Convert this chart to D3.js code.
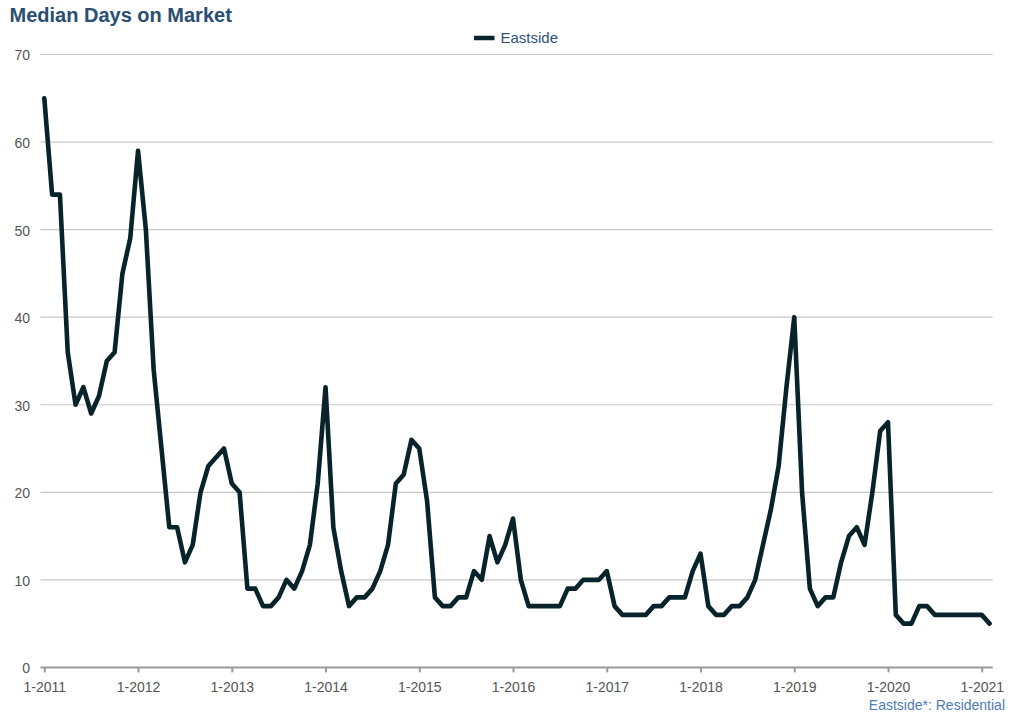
<!DOCTYPE html>
<html>
<head>
<meta charset="utf-8">
<script src="https://cdn.jsdelivr.net/npm/d3@7"></script>
<style>
  body { margin: 0; background: #fff; }
  svg { display: block; font-family: "Liberation Sans", Arial, sans-serif; }
</style>
</head>
<body>
<svg id="chart" width="1024" height="717"></svg>
<script>
// Median days on market, monthly Jan 2011 .. Feb 2021
const startYear = 2011;
const seriesName = "Eastside";
const medianDays = [
  65, 54, 54, 36, 30, 32, 29, 31, 35, 36, 45, 49, // 2011
  59, 50, 34, 25, 16, 16, 12, 14, 20, 23, 24, 25, // 2012
  21, 20, 9, 9, 7, 7, 8, 10, 9, 11, 14, 21,       // 2013
  32, 16, 11, 7, 8, 8, 9, 11, 14, 21, 22, 26,     // 2014
  25, 19, 8, 7, 7, 8, 8, 11, 10, 15, 12, 14,      // 2015
  17, 10, 7, 7, 7, 7, 7, 9, 9, 10, 10, 10,        // 2016
  11, 7, 6, 6, 6, 6, 7, 7, 8, 8, 8, 11,           // 2017
  13, 7, 6, 6, 7, 7, 8, 10, 14, 18, 23, 32,       // 2018
  40, 20, 9, 7, 8, 8, 12, 15, 16, 14, 20, 27,     // 2019
  28, 6, 5, 5, 7, 7, 6, 6, 6, 6, 6, 6,            // 2020
  6, 5                                            // 2021
];
const yTicks = [0, 10, 20, 30, 40, 50, 60, 70];
const yearTicks = d3.range(0, medianDays.length, 12);

const lineColor = "#08232a";
const gridColor = "#c8c8c8";
const axisColor = "#999999";
const labelColor = "#555555";

const svg = d3.select("#chart");
const margin = { top: 54.5, right: 34, bottom: 49.6, left: 44.3 };
const width = +svg.attr("width");
const height = +svg.attr("height");

//Scales
const xScale = d3
  .scaleLinear()
  .domain([0, medianDays.length - 1])
  .range([margin.left, margin.left + 7.812 * (medianDays.length - 1)]);

const yScale = d3
  .scaleLinear()
  .domain([0, 70])
  .range([height - margin.bottom, margin.top]);

const gridX0 = xScale.range()[0] - 3.8;
const gridX1 = xScale.range()[1] + 3.2;

//Title
svg
  .append("text")
  .attr("x", 9.5)
  .attr("y", 22)
  .attr("fill", "#2a4d72")
  .style("font-size", "20px")
  .style("font-weight", "bold")
  .text("Median Days on Market");

//Legend
const legend = svg.append("g").attr("transform", "translate(474,38)");
legend
  .append("line")
  .attr("x1", 0)
  .attr("x2", 20.5)
  .attr("stroke", lineColor)
  .attr("stroke-width", 4.5);
legend
  .append("text")
  .attr("x", 26.5)
  .attr("y", 5.3)
  .attr("fill", "#2f5378")
  .style("font-size", "15px")
  .text(seriesName);

//Grid lines + y labels
const yAxis = d3
  .axisLeft(yScale)
  .tickValues(yTicks)
  .tickSize(0)
  .tickPadding(0);

const yG = svg
  .append("g")
  .attr("transform", `translate(${30},1)`)
  .call(yAxis);
yG.select(".domain").remove();
yG.selectAll("text")
  .attr("fill", labelColor)
  .style("font-size", "14px")
  .style("font-family", "'Liberation Sans', Arial, sans-serif");

svg
  .append("g")
  .selectAll("line")
  .data(yTicks.filter((d) => d > 0))
  .enter()
  .append("line")
  .attr("x1", gridX0)
  .attr("x2", gridX1)
  .attr("y1", (d) => yScale(d))
  .attr("y2", (d) => yScale(d))
  .attr("stroke", gridColor)
  .attr("stroke-width", 1.2);

//X axis
const xAxis = d3
  .axisBottom(xScale)
  .tickValues(yearTicks)
  .tickSize(5)
  .tickSizeOuter(0)
  .tickPadding(10)
  .tickFormat((d) => `1-${startYear + d / 12}`);

const xG = svg
  .append("g")
  .attr("transform", `translate(0,${yScale(0)})`)
  .call(xAxis);
xG.select(".domain")
  .attr("d", `M${gridX0},0H${gridX1}`)
  .attr("stroke", axisColor)
  .attr("stroke-width", 2);
xG.selectAll(".tick line").attr("stroke", axisColor).attr("stroke-width", 2);
xG.selectAll("text")
  .attr("fill", labelColor)
  .style("font-size", "14px")
  .style("font-family", "'Liberation Sans', Arial, sans-serif");

//The line
const line = d3
  .line()
  .x((d, i) => xScale(i))
  .y((d) => yScale(d));

svg
  .append("path")
  .datum(medianDays)
  .attr("fill", "none")
  .attr("stroke", lineColor)
  .attr("stroke-width", 4.6)
  .attr("stroke-linejoin", "round")
  .attr("stroke-linecap", "round")
  .attr("d", line);

//Footer
svg
  .append("text")
  .attr("x", 1005)
  .attr("y", 710)
  .attr("text-anchor", "end")
  .attr("fill", "#4d7db2")
  .style("font-size", "14px")
  .text(`${seriesName}*: Residential`);
</script>
</body>
</html>
